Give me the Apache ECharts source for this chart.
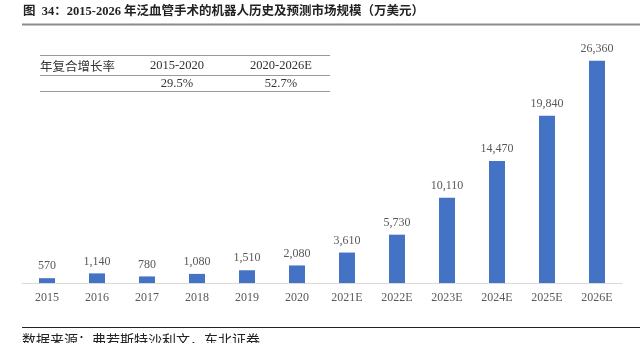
<!DOCTYPE html>
<html>
<head>
<meta charset="utf-8">
<script src="https://cdn.jsdelivr.net/npm/echarts@6/dist/echarts.min.js"></script>
<style>
  html, body { margin: 0; padding: 0; background: #fff; }
  #chart { width: 640px; height: 343px; }
</style>
</head>
<body>
<div id="chart"></div>
<script>
// Market size by year (10k USD)
const years = ['2015', '2016', '2017', '2018', '2019', '2020', '2021E', '2022E', '2023E', '2024E', '2025E', '2026E'];
const marketSize = [570, 1140, 780, 1080, 1510, 2080, 3610, 5730, 10110, 14470, 19840, 26360];

// CAGR table
const cagrHeader = ['年复合增长率', '2015-2020', '2020-2026E'];
const cagrValues = ['29.5%', '52.7%'];

const titleText = '图  34：2015-2026 年泛血管手术的机器人历史及预测市场规模（万美元）';
const sourceText = '数据来源：弗若斯特沙利文，东北证券';

const serif = '"Liberation Serif", "Times New Roman", "Noto Sans CJK SC", serif';
const labelColor = '#595959';

const chart = echarts.init(document.getElementById('chart'), null, { renderer: 'canvas' });

chart.setOption({
  animation: false,
  grid: { left: 22, right: 18, top: 30, bottom: 60 },
  xAxis: {
    type: 'category',
    data: years,
    axisLine: { lineStyle: { color: '#d9d9d9', width: 1 } },
    axisTick: { show: false },
    axisLabel: { color: labelColor, fontFamily: serif, fontSize: 12, margin: 9 }
  },
  yAxis: {
    type: 'value',
    min: 0,
    max: 30000,
    show: false,
    splitLine: { show: false }
  },
  series: [{
    type: 'bar',
    data: marketSize,
    barWidth: 16,
    itemStyle: { color: '#4472C4' },
    label: {
      show: true,
      position: 'top',
      distance: 6,
      color: labelColor,
      fontFamily: serif,
      fontSize: 12,
      formatter: p => p.value.toLocaleString('en-US')
    }
  }],
  graphic: [
    // title
    { type: 'text', x: 23, y: 12,
      style: { text: titleText, fontFamily: '"Liberation Serif", "Noto Sans CJK SC", serif', fontWeight: 'bold', fontSize: 12.5, fill: '#222', verticalAlign: 'middle' } },
    { type: 'line', shape: { x1: 22, y1: 24.5, x2: 640, y2: 24.5 }, style: { stroke: '#8c8c8c', lineWidth: 2 } },
    // CAGR table
    { type: 'line', shape: { x1: 40, y1: 55.5, x2: 330, y2: 55.5 }, style: { stroke: '#999', lineWidth: 1 } },
    { type: 'line', shape: { x1: 40, y1: 75.5, x2: 330, y2: 75.5 }, style: { stroke: '#999', lineWidth: 1 } },
    { type: 'line', shape: { x1: 40, y1: 91.5, x2: 330, y2: 91.5 }, style: { stroke: '#999', lineWidth: 1 } },
    { type: 'text', x: 40, y: 66,
      style: { text: cagrHeader[0], fontFamily: '"Noto Sans CJK SC", sans-serif', fontSize: 12.5, fill: '#333', verticalAlign: 'middle' } },
    { type: 'text', x: 177, y: 66,
      style: { text: cagrHeader[1], fontFamily: serif, fontSize: 12.5, fill: '#333', align: 'center', verticalAlign: 'middle' } },
    { type: 'text', x: 281, y: 66,
      style: { text: cagrHeader[2], fontFamily: serif, fontSize: 12.5, fill: '#333', align: 'center', verticalAlign: 'middle' } },
    { type: 'text', x: 177, y: 84,
      style: { text: cagrValues[0], fontFamily: serif, fontSize: 12.5, fill: '#333', align: 'center', verticalAlign: 'middle' } },
    { type: 'text', x: 281, y: 84,
      style: { text: cagrValues[1], fontFamily: serif, fontSize: 12.5, fill: '#333', align: 'center', verticalAlign: 'middle' } },
    // source
    { type: 'line', shape: { x1: 22, y1: 327.5, x2: 640, y2: 327.5 }, style: { stroke: '#222', lineWidth: 1 } },
    { type: 'text', x: 22, y: 333,
      style: { text: sourceText, fontFamily: '"Noto Sans CJK SC", sans-serif', fontSize: 14, fill: '#222' } }
  ]
});
</script>
</body>
</html>
